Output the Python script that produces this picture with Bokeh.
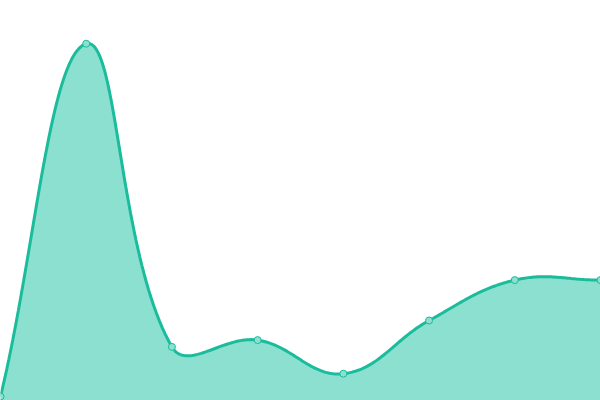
import numpy as np
from bokeh.plotting import figure
from bokeh.models import Range1d, ColumnDataSource
from bokeh.embed import file_html
from bokeh.resources import INLINE

# Data
categories = ["P1", "P2", "P3", "P4", "P5", "P6", "P7", "P8"]
values = [1.0, 89.2, 13.4, 15.1, 6.7, 20.0, 30.1, 30.1]

W, H = 600, 400
Y_MAX = 100.0
TENSION = 0.4
LINE_COLOR = "#1abc9c"
FILL_COLOR = "#8be0cf"

n = len(values)
xs = np.arange(n, dtype=float)
ys = np.array(values, dtype=float)
sx = W / (n - 1)
sy = H / Y_MAX
px, py = xs * sx, ys * sy  # screen-like space for spline control points


def spline_controls(i):
    cx, cy = px[i], py[i]
    pxv, pyv = (px[i - 1], py[i - 1]) if i > 0 else (cx, cy)
    nxv, nyv = (px[i + 1], py[i + 1]) if i < n - 1 else (cx, cy)
    d01 = np.hypot(cx - pxv, cy - pyv)
    d12 = np.hypot(nxv - cx, nyv - cy)
    tot = d01 + d12
    s01 = d01 / tot if tot else 0.0
    s12 = d12 / tot if tot else 0.0
    fa, fb = TENSION * s01, TENSION * s12
    prev_cp = (cx - fa * (nxv - pxv), cy - fa * (nyv - pyv))
    next_cp = (cx + fb * (nxv - pxv), cy + fb * (nyv - pyv))
    return prev_cp, next_cp


cps = [spline_controls(i) for i in range(n)]
t = np.linspace(0, 1, 48)
curve_x, curve_y = [], []
for i in range(n - 1):
    p0 = np.array([px[i], py[i]])
    p1 = np.array(cps[i][1])
    p2 = np.array(cps[i + 1][0])
    p3 = np.array([px[i + 1], py[i + 1]])
    tt = t if i == 0 else t[1:]
    pts = (((1 - tt) ** 3)[:, None] * p0 + (3 * (1 - tt) ** 2 * tt)[:, None] * p1
           + (3 * (1 - tt) * tt ** 2)[:, None] * p2 + (tt ** 3)[:, None] * p3)
    curve_x.extend(pts[:, 0] / sx)
    curve_y.extend(pts[:, 1] / sy)

p = figure(width=W, height=H, output_backend="svg", toolbar_location=None,
           x_range=Range1d(0, n - 1), y_range=Range1d(0, Y_MAX),
           min_border=0, min_border_left=0, min_border_right=0,
           min_border_top=0, min_border_bottom=0)
p.axis.visible = False
p.grid.visible = False
p.outline_line_color = None
p.background_fill_color = "white"
p.border_fill_color = "white"

area_x = list(curve_x) + [curve_x[-1], curve_x[0]]
area_y = list(curve_y) + [0.0, 0.0]
p.patch(area_x, area_y, fill_color=FILL_COLOR, line_color=None)
p.line(curve_x, curve_y, line_color=LINE_COLOR, line_width=3)

src = ColumnDataSource(dict(x=xs, y=ys, cat=categories))
p.scatter("x", "y", source=src, size=7, fill_color=FILL_COLOR,
          line_color=LINE_COLOR, line_width=1)

open("out.html", "w").write(file_html(p, INLINE))
